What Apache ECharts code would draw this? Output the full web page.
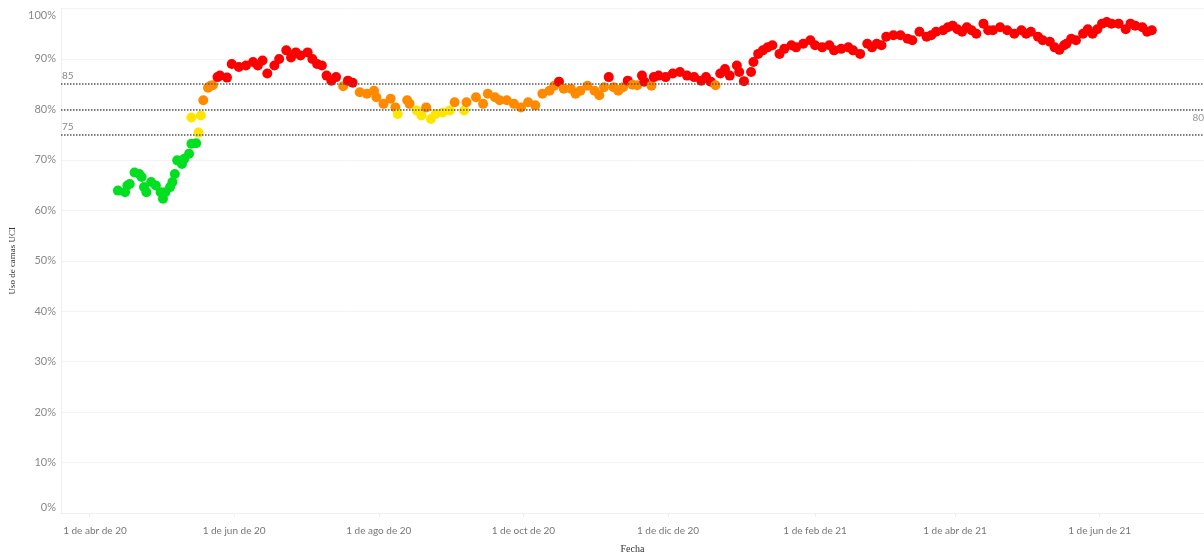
<!DOCTYPE html>
<html>
<head>
<meta charset="utf-8">
<script src="https://cdn.jsdelivr.net/npm/echarts@6/dist/echarts.min.js"></script>
<style>html,body{margin:0;padding:0;background:#fff;}#c{width:1204px;height:558px;}</style>
</head>
<body>
<div id="c"></div>
<script>
// Fecha (dates) and Uso de camas UCI (%)
const fechas = [
'2020-04-13','2020-04-16','2020-04-17','2020-04-18','2020-04-20','2020-04-22','2020-04-23','2020-04-24','2020-04-25','2020-04-27',
'2020-04-29','2020-05-01','2020-05-02','2020-05-03','2020-05-05','2020-05-06','2020-05-07','2020-05-08','2020-05-10','2020-05-11',
'2020-05-13','2020-05-14','2020-05-16','2020-05-14','2020-05-17','2020-05-18','2020-05-19','2020-05-21','2020-05-22','2020-05-23',
'2020-05-25','2020-05-26','2020-05-29','2020-05-31','2020-06-03','2020-06-06','2020-06-09','2020-06-11','2020-06-13','2020-06-15',
'2020-06-18','2020-06-20','2020-06-23','2020-06-25','2020-06-27','2020-06-29','2020-07-02','2020-07-04','2020-07-06','2020-07-08',
'2020-07-10','2020-07-12','2020-07-14','2020-07-17','2020-07-19','2020-07-21','2020-07-24','2020-07-27','2020-07-30','2020-07-31',
'2020-08-03','2020-08-06','2020-08-08','2020-08-09','2020-08-13','2020-08-14','2020-08-17','2020-08-19','2020-08-21','2020-08-23',
'2020-08-25','2020-08-28','2020-08-31','2020-09-02','2020-09-06','2020-09-07','2020-09-11','2020-09-14','2020-09-16','2020-09-19',
'2020-09-21','2020-09-24','2020-09-27','2020-09-30','2020-10-03','2020-10-06','2020-10-09','2020-10-12','2020-10-14','2020-10-16',
'2020-10-18','2020-10-21','2020-10-23','2020-10-25','2020-10-28','2020-10-31','2020-11-02','2020-11-04','2020-11-06','2020-11-08',
'2020-11-10','2020-11-12','2020-11-14','2020-11-16','2020-11-18','2020-11-20','2020-11-21','2020-11-24','2020-11-25','2020-11-27',
'2020-11-30','2020-12-03','2020-12-06','2020-12-09','2020-12-12','2020-12-15','2020-12-17','2020-12-19','2020-12-21','2020-12-23',
'2020-12-25','2020-12-27','2020-12-30','2020-12-31','2021-01-02','2021-01-05','2021-01-06','2021-01-08','2021-01-10','2021-01-12',
'2021-01-14','2021-01-17','2021-01-19','2021-01-22','2021-01-24','2021-01-27','2021-01-30','2021-02-01','2021-02-04','2021-02-07',
'2021-02-09','2021-02-12','2021-02-15','2021-02-17','2021-02-20','2021-02-23','2021-02-25','2021-02-27','2021-03-01','2021-03-03',
'2021-03-06','2021-03-09','2021-03-12','2021-03-14','2021-03-17','2021-03-20','2021-03-22','2021-03-24','2021-03-27','2021-03-29',
'2021-03-31','2021-04-02','2021-04-04','2021-04-06','2021-04-08','2021-04-10','2021-04-13','2021-04-15','2021-04-17','2021-04-20',
'2021-04-23','2021-04-26','2021-04-29','2021-05-01','2021-05-03','2021-05-06','2021-05-08','2021-05-11','2021-05-13','2021-05-15',
'2021-05-17','2021-05-18','2021-05-20','2021-05-22','2021-05-25','2021-05-27','2021-05-29','2021-05-31','2021-06-02','2021-06-04',
'2021-06-06','2021-06-09','2021-06-12','2021-06-14','2021-06-16','2021-06-19','2021-06-21','2021-06-23'
];
const usoUCI = [
63.9,63.6,64.9,65.2,67.5,67.2,66.6,64.6,63.6,65.6,
64.9,63.6,62.3,63.6,64.6,65.6,67.2,69.9,69.2,70.2,
71.2,73.2,73.3,78.4,75.4,78.8,81.8,84.3,84.7,84.8,
86.4,86.7,86.3,89.0,88.4,88.7,89.4,88.7,89.7,87.1,
88.7,90.0,91.7,90.3,91.3,90.7,91.3,90.0,89.0,88.7,
86.7,85.7,86.4,84.6,85.7,85.3,83.4,83.1,83.7,82.4,
81.1,82.1,80.4,79.1,81.8,81.1,79.8,78.8,80.4,78.1,
79.1,79.4,79.8,81.4,79.8,81.4,82.4,81.1,83.1,82.4,
81.8,81.8,81.1,80.4,81.4,80.8,83.1,83.7,84.7,85.5,
84.1,84.1,83.1,83.7,84.7,83.7,82.8,84.4,86.4,84.4,
83.7,84.4,85.7,84.9,84.8,86.7,85.5,84.7,86.4,86.7,
86.4,87.1,87.4,86.7,86.4,85.7,86.4,85.5,84.8,87.1,
88.0,86.7,88.7,87.4,85.6,87.4,89.4,91.0,91.7,92.3,
92.7,91.0,92.0,92.7,92.3,93.0,93.7,92.7,92.3,92.7,
91.7,92.0,92.3,91.7,91.0,93.0,92.3,93.0,92.7,94.4,
94.7,94.7,94.0,93.7,95.4,94.4,94.7,95.4,95.7,96.3,
96.6,95.9,95.4,96.3,95.7,95.0,97.0,95.7,95.7,96.3,
95.7,95.0,95.7,95.0,95.4,94.4,93.7,93.4,92.3,91.8,
92.7,93.0,94.0,93.7,95.0,95.9,95.0,95.9,97.0,97.3,
97.0,97.0,95.9,97.0,96.6,96.3,95.4,95.7
];
const xTickDates = ['2020-04-01','2020-06-01','2020-08-01','2020-10-01','2020-12-01','2021-02-01','2021-04-01','2021-06-01'];
const mesesAbr = ['ene','feb','mar','abr','may','jun','jul','ago','sep','oct','nov','dic'];
const refLines = [85, 80, 75];

function ts(s){ const p = s.split('-'); return Date.UTC(+p[0], +p[1]-1, +p[2]); }
const data = fechas.map((f,i)=>[ts(f), usoUCI[i]]);
const xTickTs = xTickDates.map(ts);

const chart = echarts.init(document.getElementById('c'), null, {renderer:'canvas'});
chart.setOption({
  animation:false,
  backgroundColor:'#fff',
  grid:{left:61, right:0, top:8.5, height:504.5, containLabel:false, outerBoundsMode:'none'},
  xAxis:{
    type:'value',
    min: ts('2020-03-20'), max: ts('2021-07-15'),
    name:'Fecha', nameLocation:'middle', nameGap:31,
    nameTextStyle:{fontFamily:'Liberation Serif', fontSize:10, color:'#333'},
    axisLine:{show:true, lineStyle:{color:'#eeeeee'}},
    axisTick:{show:true, customValues: xTickTs, length:4, lineStyle:{color:'#eeeeee'}},
    splitLine:{show:false},
    axisLabel:{
      customValues: xTickTs,
      margin:13, fontFamily:'Lato', fontSize:10, color:'#777',
      formatter:function(v){
        const d=new Date(v);
        const s='1 de '+mesesAbr[d.getUTCMonth()]+' de '+String(d.getUTCFullYear()).slice(2);
        return v===xTickTs[0] ? '{f|'+s+'}' : s;
      },
      rich:{ f:{fontFamily:'Lato', fontSize:10, color:'#777', padding:[0,0,0,11]} }
    }
  },
  yAxis:{
    type:'value', min:0, max:100, interval:10,
    name:'Uso de camas UCI', nameLocation:'middle', nameGap:44,
    nameTextStyle:{fontFamily:'Liberation Serif', fontSize:9, color:'#333'},
    axisLine:{show:true, lineStyle:{color:'#eeeeee'}},
    axisTick:{show:false},
    splitLine:{show:true, lineStyle:{color:'#f3f3f3'}},
    axisLabel:{margin:5, fontFamily:'Lato', fontSize:11, color:'#888',
      formatter:function(v){ if(v===100) return '{t|100%}'; if(v===0) return '{b|0%}'; return v+'%'; },
      rich:{
        t:{fontFamily:'Lato', fontSize:11, color:'#888', padding:[13,0,0,0]},
        b:{fontFamily:'Lato', fontSize:11, color:'#888', padding:[0,0,11,0]}
      }
    }
  },
  visualMap:{
    show:false, type:'piecewise', dimension:1, seriesIndex:0,
    pieces:[
      {lt:75, color:'#00e020'},
      {gte:75, lt:80, color:'#ffe500'},
      {gte:80, lt:85, color:'#ff8a00'},
      {gte:85, color:'#ff0000'}
    ]
  },
  series:[{
    type:'scatter',
    data:data,
    symbolSize:10,
    itemStyle:{opacity:1},
    markLine:{
      silent:true, symbol:'none', animation:false,
      lineStyle:{color:'#555', type:'dotted', width:1.5},
      data:[
        {yAxis:refLines[0], label:{show:true, position:'insideStartTop', formatter:'85', color:'#888', fontFamily:'Lato', fontSize:10, distance:[1,3]}},
        {yAxis:refLines[1], label:{show:true, position:'insideEndBottom', formatter:'80', color:'#999', fontFamily:'Lato', fontSize:10, distance:[0,3]}},
        {yAxis:refLines[2], label:{show:true, position:'insideStartTop', formatter:'75', color:'#888', fontFamily:'Lato', fontSize:10, distance:[1,3]}}
      ]
    }
  }]
});
</script>
</body>
</html>
